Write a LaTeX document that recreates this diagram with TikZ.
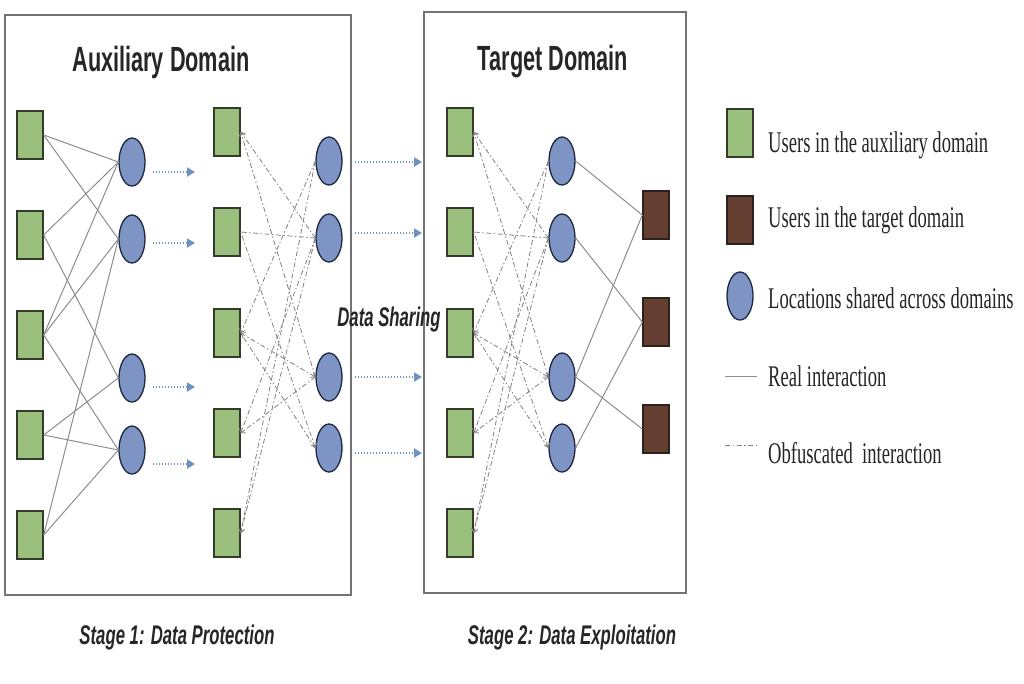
\documentclass[tikz,border=0pt]{standalone}
\usepackage{fontspec}
\setmainfont{Liberation Serif}
\newfontfamily\headfont[FakeStretch=0.62]{Liberation Sans}
\newfontfamily\legfont[FakeStretch=0.62]{Liberation Serif}
\usetikzlibrary{positioning,shapes.geometric,arrows.meta}

\definecolor{auxgreen}{RGB}{155,192,126}
\definecolor{greenedge}{RGB}{50,60,40}
\definecolor{tgtbrown}{RGB}{100,62,48}
\definecolor{brownedge}{RGB}{45,35,30}
\definecolor{locblue}{RGB}{125,148,196}
\definecolor{locedge}{RGB}{30,40,65}
\definecolor{shareblue}{RGB}{110,145,195}

\begin{document}
\begin{tikzpicture}[x=1pt,y=-1pt]

% ---- Styles ----
\tikzset{
  auxuser/.style={rectangle, draw=greenedge, fill=auxgreen, line width=1.4pt,
                  minimum width=26pt, minimum height=48pt, inner sep=0pt},
  tgtuser/.style={auxuser, draw=brownedge, fill=tgtbrown},
  location/.style={ellipse, draw=locedge, fill=locblue, line width=1.3pt,
                   minimum width=26pt, minimum height=48pt, inner sep=0pt},
  panel/.style={rectangle, draw=black!55, line width=1.3pt, inner sep=0pt},
  real/.style={draw=black!45, line width=1pt},
  obf/.style={draw=black!50, line width=0.8pt,
              dash pattern=on 5pt off 2.5pt on 1.5pt off 2.5pt,
              >={Straight Barb[length=3.5pt,width=6pt]}},
  share/.style={draw=shareblue, line width=2.6pt, dash pattern=on 1.3pt off 1.7pt,
                -{Triangle[length=8pt,width=9pt]}},
  heading/.style={text=black!85, font=\headfont\bfseries\fontsize{35}{40}\selectfont},
  stage/.style={text=black!85, font=\headfont\bfseries\itshape\fontsize{27}{31}\selectfont},
  legtext/.style={anchor=west, inner sep=0pt, text=black!85,
                  font=\legfont\fontsize{30}{34}\selectfont},
}

\useasboundingbox (0,0) rectangle (1024,683);

% --- Panels and headings ---
\node[panel, minimum width=346pt, minimum height=580pt] (auxpanel) at (178,305) {};
\node[panel, minimum width=262pt, minimum height=581pt] (tgtpanel) at (555,302.5) {};
\node[heading] (auxtitle) at (161,62) {Auxiliary Domain};
\node[heading] (tgttitle) at (553,62) {Target Domain};

% --- Users and locations ---
\foreach \y [count=\i] in {135,235,335,435,535}
  \node[auxuser] (ua\i) at (30,\y) {};
\foreach \y [count=\i] in {162,239,378,450}
  \node[location] (la\i) at (132,\y) {};
\foreach \y [count=\i] in {132,232,333,433,533}{
  \node[auxuser] (ub\i) at (227,\y) {};
  \node[auxuser] (uc\i) at (460,\y) {};
}
\foreach \y [count=\i] in {161,238,377,448}{
  \node[location] (lb\i) at (329,\y) {};
  \node[location] (lc\i) at (562,\y) {};
}
\foreach \y [count=\i] in {215,322,429}
  \node[tgtuser] (ut\i) at (656,\y) {};

% --- Real interactions ---
\foreach \i/\j in {1/1,1/2,2/1,2/3,3/1,3/2,3/4,4/3,4/4,5/2,5/4}
  \draw[real] (ua\i.east) -- (la\j.west);
\foreach \j/\k in {1/1,2/2,3/1,3/3,4/2}
  \draw[real] (lc\j.east) -- (ut\k.west);

% --- Obfuscated interactions (same in both stages) ---
\foreach \p in {b,c}{
  \foreach \j/\i/\tip in {2/1/->,3/1/->,2/2/-,4/2/<-,1/3/->,3/3/<->,4/3/-,
                          3/4/->,2/4/->,1/5/->,2/5/->}
    \draw[obf,\tip] (l\p\j.west) -- (u\p\i.east);
}

% --- Protection and sharing arrows ---
\foreach \y [count=\i] in {172,243,387,464}{
  \coordinate (prot\i) at (153,\y);
  \coordinate (protend\i) at (195,\y);
  \draw[share] (prot\i) -- (protend\i);
}
\foreach \y [count=\i] in {162,233,377,453}{
  \coordinate (shr\i) at (355,\y);
  \coordinate (shrend\i) at (422,\y);
  \draw[share] (shr\i) -- (shrend\i);
}
\node[stage] (sharing) at (389,320) {Data Sharing};

% --- Stage captions ---
\node[stage] (stage1) at (177,638) {Stage 1: Data Protection};
\node[stage] (stage2) at (572,638) {Stage 2: Data Exploitation};

% --- Legend ---
\node[auxuser] (legaux) at (740,133) {};
\node[legtext] (legauxtxt) at (768,145) {Users in the auxiliary domain};
\node[tgtuser] (legtgt) at (740,220) {};
\node[legtext] (legtgttxt) at (768,220) {Users in the target domain};
\node[location] (legloc) at (740,296) {};
\node[legtext] (legloctxt) at (768,298) {Locations shared across domains};
\coordinate (legreal) at (725,376);
\coordinate (legrealend) at (757,376);
\draw[real] (legreal) -- (legrealend);
\node[legtext] (legrealtxt) at (768,376) {Real interaction};
\coordinate (legobf) at (725,445);
\coordinate (legobfend) at (757,445);
\draw[obf] (legobf) -- (legobfend);
\node[legtext] (legobftxt) at (768,453) {Obfuscated\ \ interaction};

\end{tikzpicture}
\end{document}
